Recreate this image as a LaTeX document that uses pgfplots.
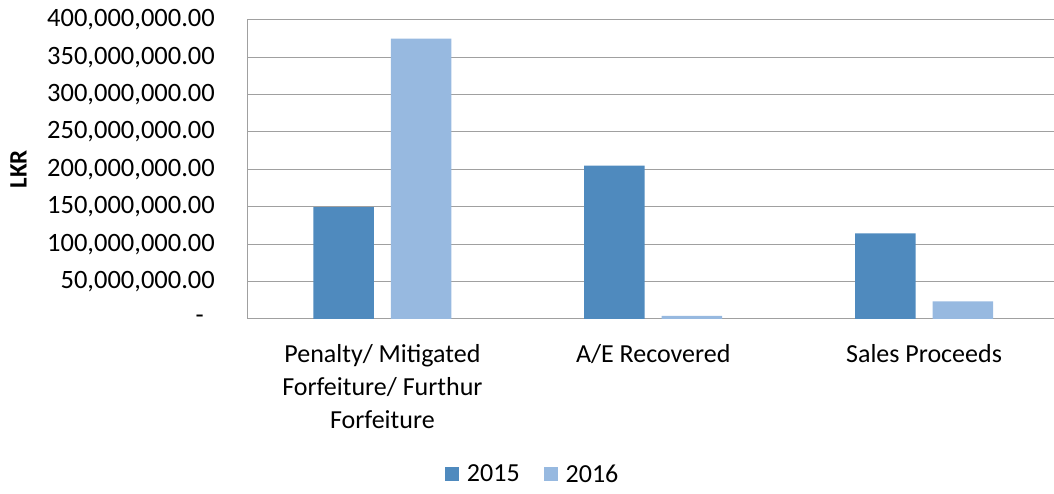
\documentclass[border=0pt]{standalone}
\usepackage{pgfplots}
\pgfplotsset{compat=1.18}
\usepackage{fontspec}
\setmainfont{Carlito}
\definecolor{cA}{HTML}{4F8ABE}
\definecolor{cB}{HTML}{97B9E0}
\definecolor{gridc}{HTML}{A0A0A0}
\newcommand{\T}[1]{\mbox{#1}}
\begin{document}
\begin{tikzpicture}[x=1bp,y=1bp]
\path[use as bounding box] (0,0) rectangle (1054,494);
\begin{axis}[
  at={(247bp,175bp)}, anchor=south west,
  scale only axis, width=807bp, height=299.3bp,
  xmin=-0.5, xmax=2.48, ymin=0, ymax=400000000,
  scaled y ticks=false,
  ybar=17bp, bar width=60.5bp,
  axis lines*=left,
  axis line style={gridc, line width=1bp, -},
  ymajorgrids, grid style={gridc, line width=1bp},
  major tick length=0pt,
  tick style={draw=none},
  font=\fontsize{25bp}{33bp}\selectfont,
  ytick={0,50000000,100000000,150000000,200000000,250000000,300000000,350000000,400000000},
  yticklabels={{\T{-\hspace{11bp}}},{\T{50,000,000.00}},{\T{100,000,000.00}},{\T{150,000,000.00}},{\T{200,000,000.00}},{\T{250,000,000.00}},{\T{300,000,000.00}},{\T{350,000,000.00}},{\T{400,000,000.00}}},
  yticklabel style={anchor=east, inner sep=0pt, xshift=-32bp, font=\fontsize{26.5bp}{30bp}\selectfont},
  xtick={0,1,2},
  xticklabels={{Penalty/ Mitigated\\Forfeiture/ Furthur\\Forfeiture},{A/E Recovered},{Sales Proceeds}},
  xticklabel style={align=center, anchor=north, inner sep=0pt, yshift=-25bp, font=\fontsize{26bp}{33bp}\selectfont},
  ylabel={\textbf{LKR}},
  every axis y label/.style={at={(axis description cs:-0.283,0.5)}, rotate=90, anchor=center},
  legend style={at={(axis description cs:0.354,-0.518)}, anchor=center, draw=none, fill=none,
    legend columns=2, font=\fontsize{26bp}{30bp}\selectfont,
    /tikz/every even column/.append style={column sep=22bp}},
  legend image code/.code={\fill[#1] (0bp,-7bp) rectangle (14bp,7bp);},
]
\addplot[fill=cA, draw=none] coordinates {(0,149500000) (1,205000000) (2,114500000)};
\addplot[fill=cB, draw=none] coordinates {(0,374700000) (1,4000000) (2,23600000)};
\legend{\hspace{6bp}2015,\hspace{6bp}2016}
\end{axis}
\end{tikzpicture}
\end{document}
